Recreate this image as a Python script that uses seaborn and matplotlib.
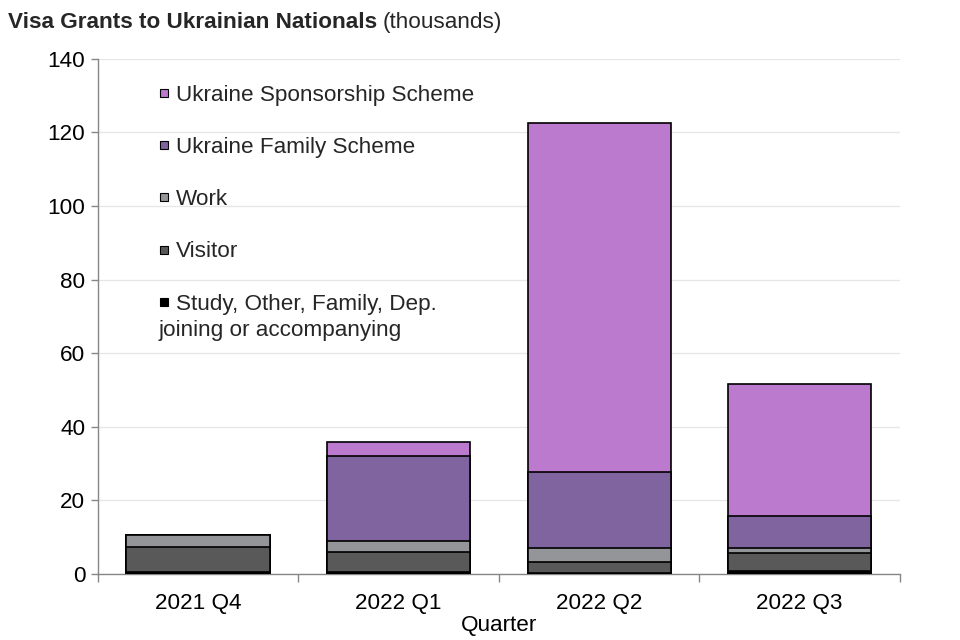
import numpy as np
import pandas as pd
import matplotlib
matplotlib.use("Agg")
import matplotlib.pyplot as plt
from matplotlib.lines import Line2D
import seaborn as sns

quarters = ["2021 Q4", "2022 Q1", "2022 Q2", "2022 Q3"]
study_other = [0.6, 0.5, 0.2, 0.8]
visitor = [6.7, 5.6, 3.1, 5.0]
work = [3.2, 3.0, 3.7, 1.3]
family_scheme = [0.0, 23.0, 20.8, 8.7]
sponsorship = [0.0, 3.7, 94.7, 35.8]

series_names = ["Study, Other, Family, Dep.", "Visitor", "Work",
                "Ukraine Family Scheme", "Ukraine Sponsorship Scheme"]
series_values = [study_other, visitor, work, family_scheme, sponsorship]
series_colors = ["#000000", "#595959", "#939598", "#7F64A0", "#BB7ACE"]
study_label_line2 = "joining or accompanying"

FS = 16.2

sns.set_theme(style="white")
plt.rcParams["font.family"] = ["Liberation Sans", "DejaVu Sans"]

fig, ax = plt.subplots(figsize=(9.6, 6.4), dpi=100)
fig.subplots_adjust(left=0.102, right=0.9375, top=0.908, bottom=0.103)

df = pd.DataFrame(dict(zip(series_names, series_values)), index=quarters)
cum = df.cumsum(axis=1)

# draw cumulative totals from the top layer down so the stacks show through
for name, color in reversed(list(zip(series_names, series_colors))):
    sns.barplot(x=quarters, y=cum[name].values, color=color, width=0.715,
                edgecolor="black", linewidth=1.2, saturation=1, ax=ax, zorder=3)

ax.set_ylim(0, 140)
ax.set_xlim(-0.5, 3.5)
ax.set_yticks(np.arange(0, 141, 20))
ax.yaxis.grid(True, color="#e6e6e6", linewidth=0.9, zorder=0)
ax.set_axisbelow(True)

for s in ["top", "right"]:
    ax.spines[s].set_visible(False)
for s in ["left", "bottom"]:
    ax.spines[s].set_color("#868686")
    ax.spines[s].set_linewidth(1.0)

ax.tick_params(axis="y", which="major", length=5, width=1, color="#868686",
               labelsize=FS, labelcolor="black", pad=4, left=True)
ax.tick_params(axis="x", which="major", length=0, labelsize=FS, labelcolor="black", pad=13.5)
ax.set_xticks(np.arange(-0.5, 4, 1), minor=True)
ax.tick_params(axis="x", which="minor", length=6, width=1, color="#868686", bottom=True)

ax.set_xlabel("Quarter", fontsize=FS, color="black", labelpad=1)
ax.set_ylabel("")

handles = [Line2D([0], [0], marker="s", linestyle="none", markersize=6.2,
                  markerfacecolor=c, markeredgecolor="black", markeredgewidth=0.8)
           for c in series_colors]
leg = ax.legend(handles[::-1], series_names[::-1], loc="upper left",
                bbox_to_anchor=(0.0754, 0.95), frameon=False, fontsize=FS,
                handlelength=0.5, handletextpad=0.3, labelspacing=1.39,
                borderaxespad=0, borderpad=0)

t1 = fig.text(0.008, 0.965, "Visa Grants to Ukrainian Nationals", fontsize=FS,
              fontweight="bold", ha="left", va="center")
fig.canvas.draw()
renderer = fig.canvas.get_renderer()
bb = t1.get_window_extent(renderer=renderer)
x_end = fig.transFigure.inverted().transform((bb.x1, bb.y0))[0]
fig.text(x_end + 0.006, 0.965, "(thousands)", fontsize=FS, ha="left", va="center")

# second line of the last legend entry wraps back under the marker
leg_bb = leg.get_window_extent(renderer=renderer)
last_bb = leg.get_texts()[-1].get_window_extent(renderer=renderer)
x2, y2 = fig.transFigure.inverted().transform((leg_bb.x0, (last_bb.y0 + last_bb.y1) / 2 - 26))
fig.text(x2, y2, study_label_line2, fontsize=FS, ha="left", va="center")

fig.savefig("out.png", dpi=100)
